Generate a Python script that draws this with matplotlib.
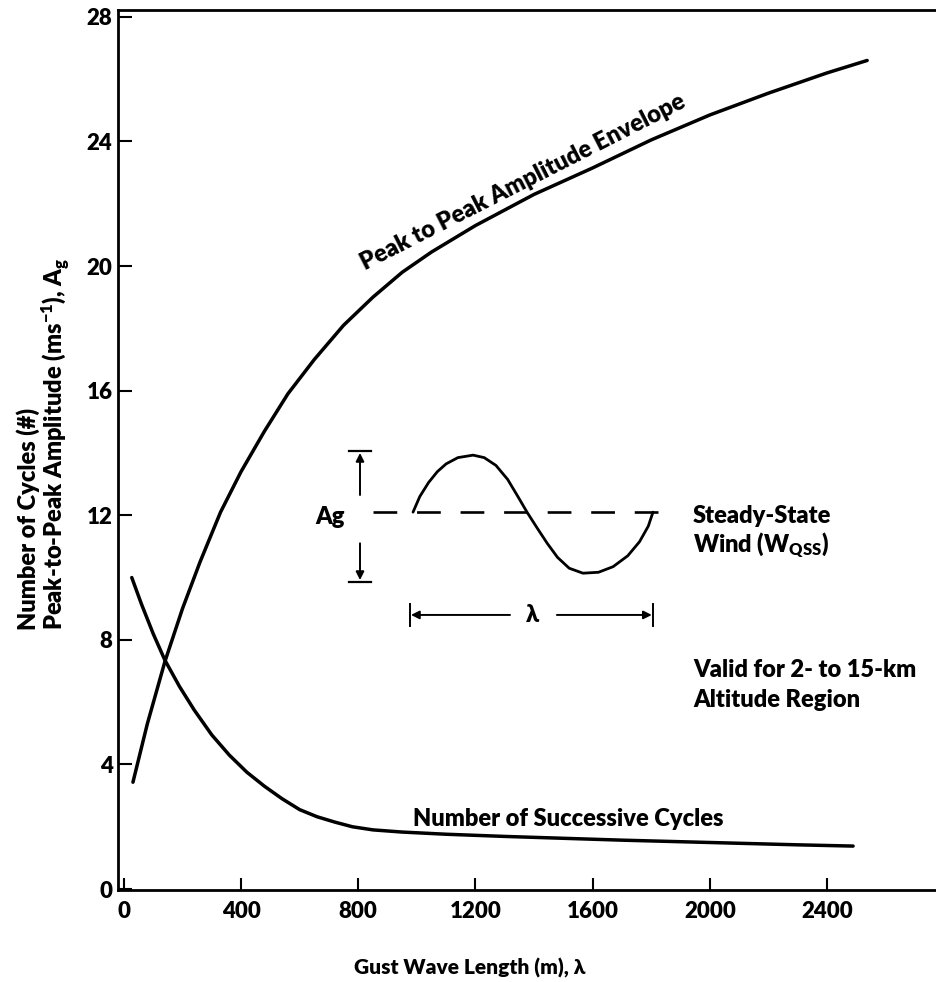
import matplotlib
matplotlib.use('Agg')
import matplotlib.pyplot as plt

plt.rcParams['font.family'] = ['Lato', 'DejaVu Sans']
plt.rcParams['font.weight'] = 'heavy'
plt.rcParams['mathtext.fontset'] = 'custom'
plt.rcParams['mathtext.rm'] = 'Lato:heavy'
plt.rcParams['mathtext.it'] = 'Lato:heavy'
plt.rcParams['mathtext.bf'] = 'Lato:heavy'
plt.rcParams['mathtext.default'] = 'rm'

# Peak-to-peak amplitude envelope (m/s) vs gust wave length (m)
env_wavelength = [31, 80, 140, 200, 260, 330, 400, 480, 560, 650, 750, 850, 950, 1050,
                  1200, 1400, 1600, 1800, 2000, 2200, 2400, 2537]
env_amplitude = [3.43, 5.3, 7.3, 9.0, 10.5, 12.1, 13.4, 14.7, 15.9, 17.0, 18.1, 19.0, 19.8, 20.45,
                 21.3, 22.3, 23.15, 24.05, 24.85, 25.55, 26.2, 26.6]

# Number of successive cycles vs gust wave length (m)
cyc_wavelength = [27, 60, 100, 140, 190, 240, 300, 360, 420, 480, 540, 600, 660, 720, 780,
                  850, 950, 1100, 1300, 1500, 1700, 1900, 2100, 2300, 2489]
cyc_number = [10.0, 9.15, 8.2, 7.35, 6.5, 5.75, 4.95, 4.3, 3.75, 3.3, 2.9, 2.55, 2.32, 2.15, 2.0,
              1.9, 1.83, 1.76, 1.69, 1.63, 1.57, 1.52, 1.47, 1.42, 1.38]

# Schematic gust wave (inset diagram)
wave_x = [987, 1010, 1040, 1070, 1100, 1140, 1192, 1230, 1270, 1310, 1345, 1376, 1410, 1445,
          1480, 1520, 1567, 1620, 1670, 1720, 1760, 1790, 1806]
wave_y = [12.1, 12.6, 13.05, 13.4, 13.65, 13.85, 13.93, 13.85, 13.6, 13.15, 12.6, 12.1, 11.6, 11.1,
          10.65, 10.3, 10.14, 10.17, 10.35, 10.7, 11.15, 11.65, 12.1]

x_ticks = [0, 400, 800, 1200, 1600, 2000, 2400]
y_ticks = [0, 4, 8, 12, 16, 20, 24, 28]

FS = 17

fig = plt.figure(figsize=(9.36, 9.82), dpi=100)
ax = fig.add_axes([118 / 936, 1 - 890 / 982, 818 / 936, 880 / 982])

ax.plot(env_wavelength, env_amplitude, color='black', lw=2.5, solid_capstyle='round', solid_joinstyle='round')
ax.plot(cyc_wavelength, cyc_number, color='black', lw=2.5, solid_capstyle='round', solid_joinstyle='round')

# inset diagram
ax.plot([850, 1864], [12.1, 12.1], color='black', lw=1.9, linestyle=(0, (9, 7.5)))
ax.plot(wave_x, wave_y, color='black', lw=2.0, solid_capstyle='round', solid_joinstyle='round')

# Ag dimension
ax.plot([770, 842], [14.06, 14.06], color='black', lw=1.6)
ax.plot([770, 842], [9.86, 9.86], color='black', lw=1.6)
ax.annotate('', xy=(806, 14.0), xytext=(806, 12.65),
            arrowprops=dict(arrowstyle='-|>', color='black', lw=1.4, mutation_scale=12, shrinkA=0, shrinkB=0))
ax.annotate('', xy=(806, 9.92), xytext=(806, 11.1),
            arrowprops=dict(arrowstyle='-|>', color='black', lw=1.4, mutation_scale=12, shrinkA=0, shrinkB=0))
ax.text(703, 11.95, 'Ag', fontsize=FS, ha='center', va='center')

# lambda dimension
ax.plot([976, 976], [8.45, 9.15], color='black', lw=1.4)
ax.plot([1806, 1806], [8.45, 9.15], color='black', lw=1.4)
ax.annotate('', xy=(980, 8.8), xytext=(1318, 8.8),
            arrowprops=dict(arrowstyle='-|>', color='black', lw=1.4, mutation_scale=12, shrinkA=0, shrinkB=0))
ax.annotate('', xy=(1802, 8.8), xytext=(1478, 8.8),
            arrowprops=dict(arrowstyle='-|>', color='black', lw=1.4, mutation_scale=12, shrinkA=0, shrinkB=0))
ax.text(1396, 8.8, 'λ', fontsize=FS, ha='center', va='center')

ax.text(1943, 11.75, 'Steady-State', fontsize=FS, ha='left', va='baseline')
ax.text(1943, 10.82, r'Wind (W$_{\mathrm{QSS}}$)', fontsize=FS, ha='left', va='baseline')
ax.text(1943, 6.8, 'Valid for 2- to 15-km', fontsize=FS, ha='left', va='baseline')
ax.text(1943, 5.84, 'Altitude Region', fontsize=FS, ha='left', va='baseline')

ax.text(987, 2.02, 'Number of Successive Cycles', fontsize=FS, ha='left', va='baseline')
ax.text(823, 19.87, 'Peak to Peak Amplitude Envelope', fontsize=FS, ha='left', va='baseline',
        rotation=27, rotation_mode='anchor')

ax.set_xlim(-20, 2772)
ax.set_ylim(-0.03, 28.22)
ax.set_xticks(x_ticks)
ax.set_yticks(y_ticks)
ax.set_xticklabels([str(v) for v in x_ticks], fontsize=16, fontweight='heavy')
ax.set_yticklabels([str(v) for v in y_ticks], fontsize=16, fontweight='heavy')
ax.tick_params(axis='both', direction='in', width=1.5, color='black')
ax.tick_params(axis='y', length=10, pad=4)
ax.tick_params(axis='x', length=9, pad=8)
ax.tick_params(axis='x', which='both', top=False)
ax.tick_params(axis='y', which='both', right=False)

for s in ['left', 'bottom', 'top']:
    ax.spines[s].set_linewidth(2.0)
ax.spines['right'].set_visible(False)

fig.text(470 / 936, 1 - 968 / 982, 'Gust Wave Length (m), λ', fontsize=15, ha='center', va='center')
fig.text(44 / 936, 1 - 630 / 982,
         'Number of Cycles (#)\nPeak-to-Peak Amplitude (ms$^{-1}$), A$_{g}$',
         fontsize=17, rotation=90, ha='center', va='bottom', multialignment='left', linespacing=0.95)

fig.savefig('out.png', dpi=100)
